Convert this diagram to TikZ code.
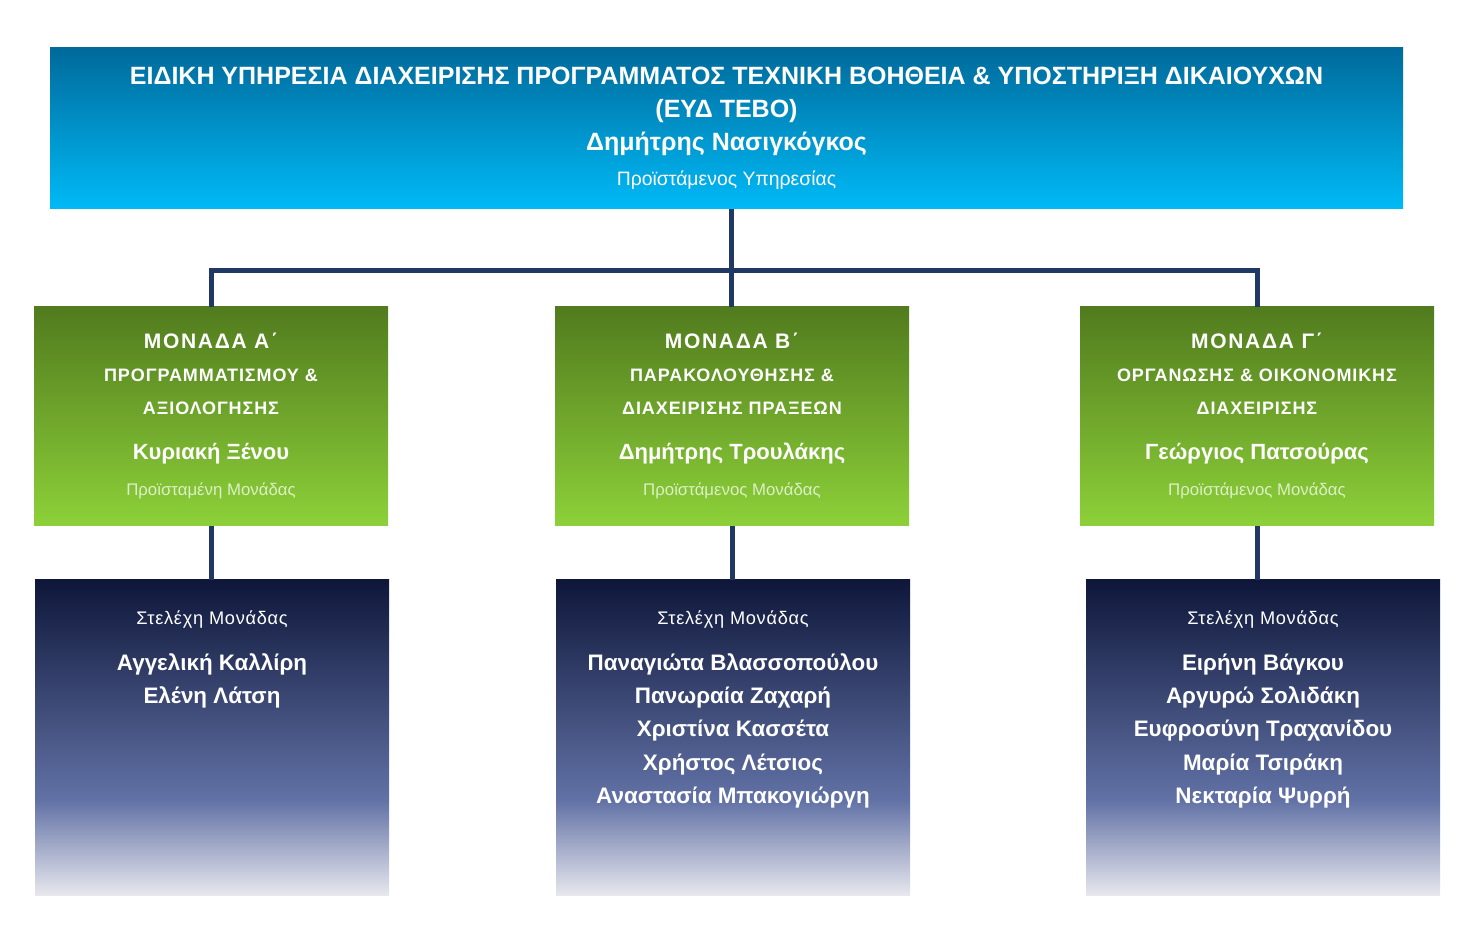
\documentclass[tikz,border=0pt]{standalone}
\usepackage{fontspec}
\setmainfont{Liberation Sans}
\usetikzlibrary{positioning,calc}

\definecolor{servtop}{HTML}{006A9B}
\definecolor{servbottom}{HTML}{00BAF7}
\definecolor{unittop}{HTML}{517B1E}
\definecolor{unitbottom}{HTML}{8DD139}
\definecolor{stafftop}{HTML}{0E173A}
\definecolor{staffmid}{HTML}{6272A6}
\definecolor{stafflight}{HTML}{E7E7ED}
\definecolor{linkblue}{HTML}{1F3864}
\definecolor{rolegreen}{HTML}{DCEFC6}

% dark navy fading to light grey at the bottom
\pgfdeclareverticalshading{stafffade}{100bp}{color(0bp)=(stafflight); color(25bp)=(stafflight); color(40bp)=(staffmid); color(75bp)=(stafftop); color(100bp)=(stafftop)}

\begin{document}
\begin{tikzpicture}[
    x=0.5pt, y=-0.5pt,
    servbox/.style={minimum width=676.5pt, minimum height=80.5pt, inner sep=0pt, top color=servtop, bottom color=servbottom, text=white, align=center, font=\fontsize{12.5}{16.5}\selectfont},
    unitbox/.style={minimum width=177pt, minimum height=109.5pt, inner sep=0pt, top color=unittop, bottom color=unitbottom, text=white, align=center, font=\fontsize{11}{16.5}\selectfont},
    staffbox/.style={minimum width=177pt, minimum height=157.5pt, inner sep=0pt, shading=stafffade},
    stafftext/.style={inner sep=0pt, text=white, align=center, font=\fontsize{11.2}{16.7}\selectfont\bfseries},
    link/.style={draw=linkblue, line width=2.5pt}
]
\useasboundingbox (0,0) rectangle (1479,940);

% Service (top)
\node[servbox] (serv) at (726.5,128.5) {
{\bfseries ΕΙΔΙΚΗ ΥΠΗΡΕΣΙΑ ΔΙΑΧΕΙΡΙΣΗΣ ΠΡΟΓΡΑΜΜΑΤΟΣ ΤΕΧΝΙΚΗ ΒΟΗΘΕΙΑ \& ΥΠΟΣΤΗΡΙΞΗ ΔΙΚΑΙΟΥΧΩΝ}\\
{\bfseries (ΕΥΔ ΤΕΒΟ)}\\
{\bfseries Δημήτρης Νασιγκόγκος}\\[1pt]
{\fontsize{9.7}{11}\selectfont Προϊστάμενος Υπηρεσίας}
};

% Units
\node[unitbox] (unitA) at (211,416.5) {
{\fontsize{10.5}{10}\selectfont\bfseries\addfontfeatures{LetterSpace=8}ΜΟΝΑΔΑ Α΄}\\
{\fontsize{9}{10}\selectfont\bfseries\addfontfeatures{LetterSpace=5}ΠΡΟΓΡΑΜΜΑΤΙΣΜΟΥ \&}\\
{\fontsize{9}{10}\selectfont\bfseries\addfontfeatures{LetterSpace=5}ΑΞΙΟΛΟΓΗΣΗΣ}\\[6pt]
{\bfseries Κυριακή Ξένου}\\[1.5pt]
{\fontsize{8.4}{10}\selectfont\color{rolegreen}Προϊσταμένη Μονάδας}
};
\node[unitbox] (unitB) at (732,416.5) {
{\fontsize{10.5}{10}\selectfont\bfseries\addfontfeatures{LetterSpace=8}ΜΟΝΑΔΑ Β΄}\\
{\fontsize{9}{10}\selectfont\bfseries\addfontfeatures{LetterSpace=5}ΠΑΡΑΚΟΛΟΥΘΗΣΗΣ \&}\\
{\fontsize{9}{10}\selectfont\bfseries\addfontfeatures{LetterSpace=5}ΔΙΑΧΕΙΡΙΣΗΣ ΠΡΑΞΕΩΝ}\\[6pt]
{\bfseries Δημήτρης Τρουλάκης}\\[1.5pt]
{\fontsize{8.4}{10}\selectfont\color{rolegreen}Προϊστάμενος Μονάδας}
};
\node[unitbox] (unitC) at (1257,416.5) {
{\fontsize{10.5}{10}\selectfont\bfseries\addfontfeatures{LetterSpace=8}ΜΟΝΑΔΑ Γ΄}\\
{\fontsize{9}{10}\selectfont\bfseries\addfontfeatures{LetterSpace=5}ΟΡΓΑΝΩΣΗΣ \& ΟΙΚΟΝΟΜΙΚΗΣ}\\
{\fontsize{9}{10}\selectfont\bfseries\addfontfeatures{LetterSpace=5}ΔΙΑΧΕΙΡΙΣΗΣ}\\[6pt]
{\bfseries Γεώργιος Πατσούρας}\\[1.5pt]
{\fontsize{8.4}{10}\selectfont\color{rolegreen}Προϊστάμενος Μονάδας}
};

% Unit staff
\node[staffbox] (staffA) at (212,737.5) {};
\node[staffbox] (staffB) at (733,737.5) {};
\node[staffbox] (staffC) at (1263,737.5) {};

\node[stafftext, below=15.5pt of staffA.north] (staffAtxt) {
{\mdseries\fontsize{9.1}{11}\selectfont\addfontfeatures{LetterSpace=4}Στελέχη Μονάδας}\\[6pt]
Αγγελική Καλλίρη\\
Ελένη Λάτση
};
\node[stafftext, below=15.5pt of staffB.north] (staffBtxt) {
{\mdseries\fontsize{9.1}{11}\selectfont\addfontfeatures{LetterSpace=4}Στελέχη Μονάδας}\\[6pt]
Παναγιώτα Βλασσοπούλου\\
Πανωραία Ζαχαρή\\
Χριστίνα Κασσέτα\\
Χρήστος Λέτσιος\\
Αναστασία Μπακογιώργη
};
\node[stafftext, below=15.5pt of staffC.north] (staffCtxt) {
{\mdseries\fontsize{9.1}{11}\selectfont\addfontfeatures{LetterSpace=4}Στελέχη Μονάδας}\\[6pt]
Ειρήνη Βάγκου\\
Αργυρώ Σολιδάκη\\
Ευφροσύνη Τραχανίδου\\
Μαρία Τσιράκη\\
Νεκταρία Ψυρρή
};

% Connectors
\coordinate (bus) at (731,271);
\draw[link] (bus |- serv.south) -- (bus);
\draw[link] (unitA.north) |- (bus) -| (unitC.north);
\draw[link] (bus) -- (bus |- unitB.north);
\draw[link] (unitA.south) -- (unitA.south |- staffA.north);
\draw[link] (unitB.south) -- (unitB.south |- staffB.north);
\draw[link] (unitC.south) -- (unitC.south |- staffC.north);
\end{tikzpicture}
\end{document}
